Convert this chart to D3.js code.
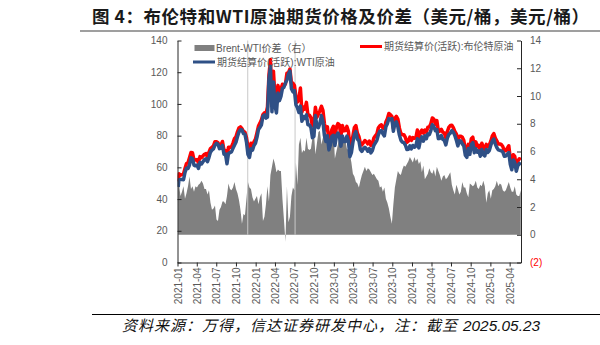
<!DOCTYPE html>
<html><head><meta charset="utf-8">
<script src="https://cdn.jsdelivr.net/npm/d3@7"></script>
<style>
html,body{margin:0;padding:0;background:#fff;}
svg{display:block;}
</style></head>
<body>
<svg id="chart" width="600" height="345"></svg>
<script>
// ---------------- DATA ----------------
// first point 2021-01-04, then weekly (Fridays) 2021-01-08 .. 2025-05-23
const firstDate = "2021-01-04";
const weeklyStart = "2021-01-08";
const weeklyEnd = "2025-05-23";

const brent2021 = [51.09,55.99,55.10,55.41,55.88,59.34,62.43,62.91,66.13,69.36,69.22,64.53,64.57,64.86,62.95,66.77,66.11,67.25,68.28,68.71,66.44,69.63,71.89,72.69,73.51,76.18,76.17,75.55,73.59,74.10,76.33,70.70,70.59,65.18,72.70,72.61,72.92,75.34,78.09,79.28,82.39,84.86,85.53,84.38,82.74,82.17,78.89,72.72,69.88,75.15,73.52,76.14,77.78];
const brent2022 = [81.75,86.06,87.89,90.03,93.27,94.44,93.54,97.93,118.11,127.98,100.0,120.65,104.39,100.58,111.70,106.65,109.34,112.39,111.55,112.55,119.43,119.72,122.01,113.12,113.12,111.63,104.65,101.16,103.20,110.01,94.92,98.15,96.72,100.99,93.02,92.84,91.35,86.15,87.96,97.92,91.63,93.50,95.77,98.57,95.99,87.62,83.63,85.57,76.10,79.04,83.92,85.91];
const brent2023 = [78.57,85.28,87.63,86.66,79.94,86.39,83.00,83.16,85.83,82.78,72.97,74.99,79.77,85.12,86.31,81.66,79.54,75.30,74.17,75.58,76.95,76.13,74.79,76.61,73.85,74.90,78.47,79.87,81.07,84.99,86.24,86.81,84.80,84.48,88.55,90.65,93.93,93.27,92.20,84.58,90.89,92.16,90.48,84.89,81.43,80.61,80.58,78.88,75.84,76.55,79.07,77.04];
const brent2024 = [78.76,78.29,78.56,83.55,77.33,82.19,83.47,81.62,83.55,82.08,85.34,85.43,87.48,91.17,90.45,87.29,89.50,82.96,82.79,83.98,82.12,81.62,78.60,82.62,85.24,86.41,86.54,85.03,82.63,81.13,76.81,79.66,79.68,79.02,76.93,71.06,70.20,74.49,71.98,78.05,79.04,73.06,76.05,73.10,73.87,71.04,75.17,72.94,71.12,74.49,72.94,74.17];
const brent2025 = [76.51,79.76,81.29,78.50,76.76,74.66,74.74,74.43,73.18,70.36,70.58,72.16,73.63,65.58,62.80,67.96,66.87,60.60,63.91,65.41,64.78];

const wti2021 = [47.62,52.24,52.36,52.27,52.20,56.85,59.47,59.24,61.50,66.09,65.61,61.42,60.97,61.45,59.32,63.13,62.14,63.58,64.90,65.37,63.58,66.32,69.62,70.91,71.64,74.05,75.16,74.56,71.81,72.07,73.95,68.28,68.44,62.32,68.74,69.29,69.72,71.97,73.98,75.88,79.35,82.28,83.76,83.57,81.27,80.79,76.10,68.15,66.26,71.67,70.86,73.79,75.21];
const wti2022 = [78.90,83.82,85.14,86.82,92.31,93.10,91.07,91.59,115.68,123.70,95.04,113.90,99.27,94.29,106.95,102.07,104.69,109.77,110.49,113.23,115.07,118.87,120.67,109.56,107.62,108.43,99.50,97.59,94.70,98.62,89.01,92.09,90.77,93.06,86.87,86.79,85.11,78.74,79.49,92.64,85.61,85.05,87.90,92.61,88.96,80.08,76.28,79.98,71.02,74.29,79.56,80.26];
const wti2023 = [73.77,79.86,81.64,79.68,73.39,79.72,76.34,76.32,79.68,76.68,66.74,69.26,75.67,80.70,82.52,77.87,76.78,71.34,70.04,71.69,72.67,71.74,70.17,71.78,69.16,70.64,73.86,75.42,77.07,80.58,82.82,83.19,81.25,79.83,85.55,87.51,90.77,90.03,90.79,82.79,87.69,88.75,85.54,80.51,77.17,75.89,75.54,74.07,71.23,71.43,73.56,71.65];
const wti2024 = [73.81,72.68,73.41,78.01,72.28,76.84,79.19,76.49,79.97,78.01,81.04,80.63,83.17,86.91,85.66,83.14,83.85,78.11,78.26,80.06,77.72,76.99,74.20,78.45,80.73,81.54,83.16,82.21,80.13,77.16,73.52,76.84,76.65,74.83,73.55,67.67,66.30,71.92,68.18,74.38,75.56,69.22,71.78,69.49,70.38,67.02,71.24,68.00,67.20,71.29,69.46,70.60];
const wti2025 = [73.96,76.57,77.88,74.66,72.53,71.00,70.74,70.40,69.76,67.04,67.18,68.28,69.36,61.99,58.50,64.68,63.02,57.50,61.02,62.49,61.53];

const spread2021 = [3.4,3.6,2.8,3.1,3.5,2.6,3.0,3.5,4.2,3.3,3.5,3.1,3.5,3.4,3.6,3.7,3.9,3.7,3.3,3.3,2.9,3.2,2.3,1.8,1.9,2.1,1.1,1.0,1.8,2.0,2.4,2.4,2.2,2.8,3.7,3.3,3.2,3.4,3.8,3.3,3.0,2.5,1.8,0.8,1.5,1.4,2.6,3.8,3.4,3.3,2.7,2.4,2.6];
const spread2022 = [2.8,2.2,2.7,3.0,1.0,1.3,2.2,3.5,2.4,4.3,4.9,5.5,5.1,4.5,4.7,4.6,4.6,2.6,1.1,-0.5,3.5,0.9,1.3,2.8,3.4,3.2,5.2,3.6,6.5,7.0,5.9,6.1,6.0,7.0,6.2,6.1,6.2,7.0,7.4,5.8,6.6,7.4,7.5,6.5,7.0,7.5,7.3,6.8,6.6,7.0,7.4,7.6];
const spread2023 = [5.5,6.0,6.5,7.2,6.6,6.7,6.7,6.8,6.2,6.1,5.8,5.2,4.4,4.2,3.8,3.7,3.4,3.9,4.3,4.6,4.9,4.6,4.8,4.7,4.5,4.3,4.4,4.2,4.0,3.9,3.4,3.5,3.1,3.4,2.6,2.3,1.9,1.3,0.8,2.2,3.4,4.0,4.6,4.4,4.3,4.7,5.0,4.9,5.1,5.3,5.6,5.4];
const spread2024 = [5.2,5.6,5.3,5.5,5.1,5.3,4.5,5.0,4.0,4.2,4.4,4.8,4.5,4.4,4.7,4.2,4.9,4.6,4.3,3.9,4.2,4.3,4.0,4.1,4.3,4.5,3.6,3.2,2.9,3.6,3.3,2.9,3.1,3.8,3.4,3.4,3.0,2.7,3.7,3.6,3.5,3.6,3.9,3.4,3.3,3.6,3.5,3.9,3.5,2.3,3.0,3.2];
const spread2025 = [2.6,3.2,3.3,3.5,3.9,3.5,3.7,3.6,3.2,3.1,3.2,3.5,3.8,3.4,3.1,3.1,3.5,2.9,2.8,2.8,3.2];

// single-day spikes of the spread (US holidays), drawn as hairlines
const spikeDates = ["2021-11-25","2022-07-04"];
const spikeValues = [16, 16];

const leftTicks = [0,20,40,60,80,100,120,140];
const rightTicks = [-2,0,2,4,6,8,10,12,14];
const rightTickLabels = ["(2)","0","2","4","6","8","10","12","14"];
const xDomain = ["2021-01-01","2025-05-24"];

const titleText = "图 4：布伦特和WTI原油期货价格及价差（美元/桶，美元/桶）";
const sourceText = "资料来源：万得，信达证券研发中心，注：截至";
const sourceDate = "2025.05.23";
const legendNames = ["Brent-WTI价差（右）","期货结算价(活跃):WTI原油","期货结算价(活跃):布伦特原油"];

// ---------------- BUILD ----------------
const parse = d3.utcParse("%Y-%m-%d");
const dates = [parse(firstDate)].concat(d3.utcFriday.range(parse(weeklyStart), d3.utcDay.offset(parse(weeklyEnd), 1)));
const brent = [].concat(brent2021, brent2022, brent2023, brent2024, brent2025);
const wti = [].concat(wti2021, wti2022, wti2023, wti2024, wti2025);
const spread = [].concat(spread2021, spread2022, spread2023, spread2024, spread2025);
const n = Math.min(dates.length, brent.length, wti.length, spread.length);
const rows = d3.range(n).map(i => ({d: dates[i], b: brent[i], w: wti[i], s: spread[i]}));

const svg = d3.select("#chart");
const L = 177.5, R = 521, T = 40.5, B = 262.5;

const x = d3.scaleUtc().domain(xDomain.map(parse)).range([L, R]);
const yL = d3.scaleLinear().domain([0, 140]).range([B, T]);
const yR = d3.scaleLinear().domain([-2, 14]).range([B, T]);

const tickFont = "'Liberation Sans', Arial, 'Noto Sans CJK SC', sans-serif";

// title
svg.append("text").attr("x", 92).attr("y", 23)
  .attr("font-family", "'Noto Sans CJK SC', sans-serif").attr("font-weight", "bold")
  .attr("font-size", 17.5).attr("fill", "#1a1a1a")
  .attr("textLength", 497).attr("lengthAdjust", "spacing").text(titleText);
svg.append("line").attr("x1", 80).attr("x2", 600).attr("y1", 31).attr("y2", 31)
  .attr("stroke", "#7f7f7f").attr("stroke-width", 1.6);

// clip
svg.append("clipPath").attr("id", "clip").append("rect")
  .attr("x", L).attr("y", T).attr("width", R - L).attr("height", B - T);
const plot = svg.append("g").attr("clip-path", "url(#clip)");

// spread area
plot.append("path").datum(rows)
  .attr("d", d3.area().x(d => x(d.d)).y0(yR(0)).y1(d => yR(d.s)))
  .attr("fill", "#808080");
plot.selectAll(".spike").data(spikeDates.map((d, i) => ({d: parse(d), v: spikeValues[i]})))
  .join("line").attr("class", "spike")
  .attr("x1", d => x(d.d)).attr("x2", d => x(d.d))
  .attr("y1", yR(0)).attr("y2", d => yR(d.v))
  .attr("stroke", "#c8c8c8").attr("stroke-width", 1);

// lines
plot.append("path").datum(rows)
  .attr("d", d3.line().x(d => x(d.d)).y(d => yL(d.b)))
  .attr("fill", "none").attr("stroke", "#ff0000").attr("stroke-width", 3.5)
  .attr("stroke-linejoin", "round");
plot.append("path").datum(rows)
  .attr("d", d3.line().x(d => x(d.d)).y(d => yL(d.w)))
  .attr("fill", "none").attr("stroke", "#2f5086").attr("stroke-width", 3.5)
  .attr("stroke-linejoin", "round");

// axes
const gl = svg.append("g").attr("transform", `translate(${L},0)`)
  .call(d3.axisLeft(yL).tickValues(leftTicks).tickSizeInner(-4).tickSizeOuter(0).tickPadding(10));
const gr = svg.append("g").attr("transform", `translate(${R},0)`)
  .call(d3.axisRight(yR).tickValues(rightTicks).tickSizeInner(-4).tickSizeOuter(0).tickPadding(9)
    .tickFormat((d, i) => rightTickLabels[i]));
const xTicks = d3.utcMonth.every(3).range(parse("2021-01-01"), parse("2025-05-02"));
const gx = svg.append("g").attr("transform", `translate(0,${B})`)
  .call(d3.axisBottom(x).tickValues(xTicks).tickSizeInner(4).tickSizeOuter(0).tickFormat(d3.utcFormat("%Y-%m")));

[gl, gr, gx].forEach(g => {
  g.select(".domain").attr("stroke", "#262626").attr("stroke-width", 1);
  g.selectAll(".tick line").attr("stroke", "#262626");
  g.selectAll("text").attr("font-family", tickFont).attr("font-size", 10).attr("fill", "#595959");
});
gr.selectAll(".tick text").filter(d => d < 0).attr("fill", "#ff0000");
gx.selectAll(".tick text")
  .attr("transform", "rotate(-90)").attr("text-anchor", "end")
  .attr("x", -5).attr("y", 0).attr("dy", "0.35em");

// legend
const lg = svg.append("g").attr("font-family", "'Liberation Sans', 'Noto Sans CJK SC', sans-serif")
  .attr("font-size", 10).attr("fill", "#595959");
lg.append("rect").attr("x", 194.5).attr("y", 45).attr("width", 20).attr("height", 6).attr("fill", "#808080");
lg.append("text").attr("x", 216).attr("y", 51.5).text(legendNames[0]);
lg.append("line").attr("x1", 193).attr("x2", 215).attr("y1", 62).attr("y2", 62)
  .attr("stroke", "#2f5086").attr("stroke-width", 3);
lg.append("text").attr("x", 217).attr("y", 65.5).text(legendNames[1]);
lg.append("line").attr("x1", 360).attr("x2", 382).attr("y1", 46.5).attr("y2", 46.5)
  .attr("stroke", "#ff0000").attr("stroke-width", 3);
lg.append("text").attr("x", 384).attr("y", 50).text(legendNames[2]);

// footer
svg.append("line").attr("x1", 92).attr("x2", 600).attr("y1", 314.5).attr("y2", 314.5)
  .attr("stroke", "#000").attr("stroke-width", 1);
svg.append("text").attr("x", 122).attr("y", 331)
  .attr("font-family", "'Noto Sans CJK SC', sans-serif").attr("font-style", "italic")
  .attr("font-size", 15).attr("fill", "#111")
  .attr("textLength", 335).attr("lengthAdjust", "spacing").text(sourceText);
svg.append("text").attr("x", 463).attr("y", 331)
  .attr("font-family", "'Liberation Sans', Arial, sans-serif").attr("font-style", "italic")
  .attr("font-size", 15.4).attr("fill", "#111").text(sourceDate);
</script>
</body></html>
